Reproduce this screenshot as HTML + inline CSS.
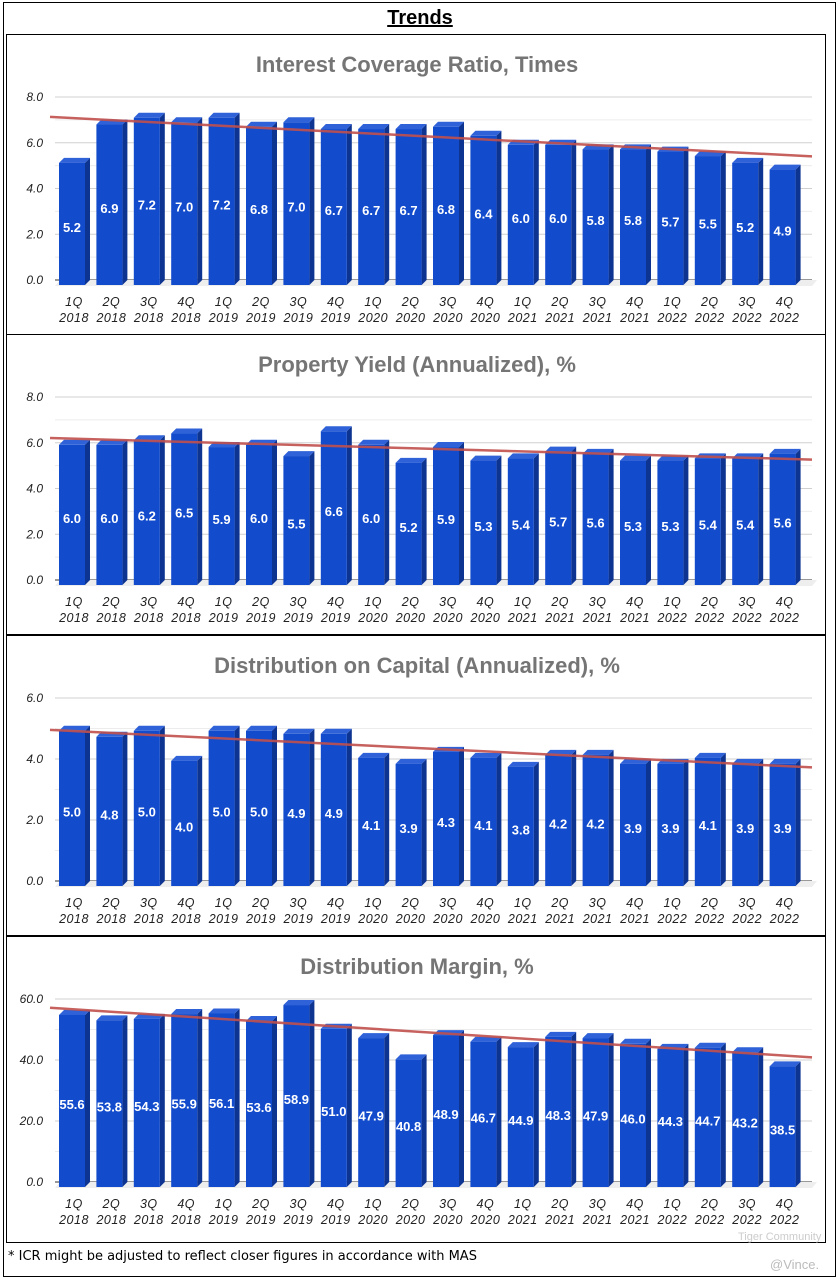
<!DOCTYPE html>
<html><head><meta charset="utf-8">
<style>
html,body{margin:0;padding:0;background:#fff;}
body{width:840px;height:1284px;position:relative;overflow:hidden;font-family:"Liberation Sans",sans-serif;}
#outer{position:absolute;left:3px;top:2px;width:833px;height:1275px;border:1.5px solid #000;box-sizing:border-box;}
#title{position:absolute;left:0;width:840px;top:7px;text-align:center;font-weight:bold;font-size:20px;text-decoration:underline;}
.panel{position:absolute;left:6px;width:820px;height:301px;border:1.5px solid #000;box-sizing:border-box;}
#foot{position:absolute;left:8px;top:1249px;font-size:13px;color:#000;font-family:"DejaVu Sans","Liberation Sans",sans-serif;}
#vince{position:absolute;left:770px;top:1257px;font-size:13px;color:#bbb;}
#wm{position:absolute;left:738px;top:1231px;font-size:11px;color:#ccc;}
svg{position:absolute;left:0;top:0;}
</style></head>
<body>
<div id="outer"></div>
<div id="title">Trends</div>
<div class="panel" style="top:34px"></div>
<div class="panel" style="top:334px"></div>
<div class="panel" style="top:635px"></div>
<div class="panel" style="top:936px;height:307px"></div>
<svg id="chart" width="840" height="1284"></svg>
<div id="foot">* ICR might be adjusted to reflect closer figures in accordance with MAS</div>
<div id="wm">Tiger Community</div>
<div id="vince">@Vince.</div>
<script>
const quarters = ["1Q","2Q","3Q","4Q","1Q","2Q","3Q","4Q","1Q","2Q","3Q","4Q","1Q","2Q","3Q","4Q","1Q","2Q","3Q","4Q"];
const years = ["2018","2018","2018","2018","2019","2019","2019","2019","2020","2020","2020","2020","2021","2021","2021","2021","2022","2022","2022","2022"];
const icrValues = [5.2,6.9,7.2,7.0,7.2,6.8,7.0,6.7,6.7,6.7,6.8,6.4,6.0,6.0,5.8,5.8,5.7,5.5,5.2,4.9];
const yieldValues = [6.0,6.0,6.2,6.5,5.9,6.0,5.5,6.6,6.0,5.2,5.9,5.3,5.4,5.7,5.6,5.3,5.3,5.4,5.4,5.6];
const capitalValues = [5.0,4.8,5.0,4.0,5.0,5.0,4.9,4.9,4.1,3.9,4.3,4.1,3.8,4.2,4.2,3.9,3.9,4.1,3.9,3.9];
const marginValues = [55.6,53.8,54.3,55.9,56.1,53.6,58.9,51.0,47.9,40.8,48.9,46.7,44.9,48.3,47.9,46.0,44.3,44.7,43.2,38.5];
const titles = ["Interest Coverage Ratio, Times","Property Yield (Annualized), %","Distribution on Capital (Annualized), %","Distribution Margin, %"];
const icrTicks = [0,2,4,6,8];
const yieldTicks = [0,2,4,6,8];
const capitalTicks = [0,2,4,6];
const marginTicks = [0,20,40,60];

const NS="http://www.w3.org/2000/svg";
const svg=document.getElementById('chart');
function mk(tag,attrs,parent){const e=document.createElementNS(NS,tag);for(const k in attrs)e.setAttribute(k,attrs[k]);(parent||svg).appendChild(e);return e;}

function drawChart(off, title, values, ticks, decimals, key){
  const g=mk('g',{});
  
  
  const base=280+off, top=97+off, maxT=ticks[ticks.length-1];
  const y=v=>base-(v/maxT)*(base-top);
  const yb=v=>base-(v/maxT)*(base-top)*0.985;
  const x0=59, pitch=37.4, bw=26, dep=5;
  const xc=i=>x0+bw/2+i*pitch;
  const t=mk('text',{x:417,y:72+off,'text-anchor':'middle','font-size':22,'font-weight':'bold',fill:'#757575'},g);
  t.textContent=title;
  
  
  for(let k=0;k<ticks.length;k++){
    const v=ticks[k];
    if(k>0){const mv=(ticks[k-1]+v)/2;
      const ml=mk('line',{x1:55,x2:812,y1:y(mv),y2:y(mv),stroke:'#ececec','stroke-width':1},g);
      
      }
    const gl=mk('line',{x1:55,x2:812,y1:y(v),y2:y(v),stroke:k===0?'#333':'#d0d0d0','stroke-width':1},g);
    
    
    const tl=mk('text',{x:43,y:y(v)+4,'text-anchor':'end','font-size':12,'font-style':'italic',fill:'#222'},g);
    tl.textContent=v.toFixed(1);
    
    
  }
  const fl=mk('polygon',{points:`${55},${base+6} ${812},${base+6} ${817},${base} ${60},${base}`,fill:'#eeeeee'},g);
  
  
  values.forEach((v,i)=>{
    const bx=x0+i*pitch, by=yb(v), bb=base+5;
    const s=mk('polygon',{points:`${bx+bw},${by} ${bx+bw+dep},${by-5} ${bx+bw+dep},${bb-5} ${bx+bw},${bb}`,fill:'#0e3491'},g);
    
    
    const tp=mk('polygon',{points:`${bx},${by} ${bx+dep},${by-5} ${bx+bw+dep},${by-5} ${bx+bw},${by}`,fill:'#2f62d8'},g);
    
    
    const r=mk('rect',{x:bx,y:by,width:bw,height:bb-by,fill:'#124bcc'},g);
    
    
    const lt=mk('text',{x:bx+bw/2,y:(by+bb)/2+8,'text-anchor':'middle','font-size':13,'font-weight':'bold',fill:'#fff'},g);
    lt.textContent=v.toFixed(decimals);
    
    
    const q=mk('text',{x:xc(i)+2,y:base+26,'text-anchor':'middle','font-size':12.5,'font-style':'italic','letter-spacing':'0.5',fill:'#222'},g);
    q.textContent=quarters[i];
    
    
    const yr=mk('text',{x:xc(i)+2,y:base+42,'text-anchor':'middle','font-size':12.5,'font-style':'italic','letter-spacing':'0.5',fill:'#222'},g);
    yr.textContent=years[i];
    
    
  });
  const n=values.length;let sx=0,sy=0,sxx=0,sxy=0;
  values.forEach((v,i)=>{sx+=i;sy+=v;sxx+=i*i;sxy+=i*v;});
  const b=(n*sxy-sx*sy)/(n*sxx-sx*sx), a=(sy-b*sx)/n;
  const iL=(50-xc(0))/pitch, iR=(812-xc(0))/pitch;
  const tr=mk('line',{x1:50,y1:y(a+b*iL),x2:812,y2:y(a+b*iR),stroke:'#c0504d','stroke-width':2.5,'stroke-opacity':0.9},g);
  
  
}
drawChart(0,titles[0],icrValues,icrTicks,1,'icr');
drawChart(300,titles[1],yieldValues,yieldTicks,1,'property-yield');
drawChart(601,titles[2],capitalValues,capitalTicks,1,'distribution-capital');
drawChart(902,titles[3],marginValues,marginTicks,1,'distribution-margin');
</script>
</body></html>
